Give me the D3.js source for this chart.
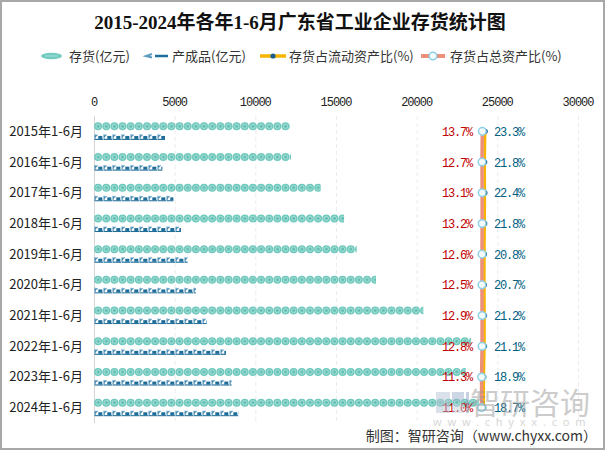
<!DOCTYPE html>
<html><head><meta charset="utf-8">
<script src="https://cdn.jsdelivr.net/npm/d3@7/dist/d3.min.js"></script>
<style>body{margin:0;background:#fff}svg{display:block}</style>
</head><body>
<script>
const categories = ["2015年1-6月","2016年1-6月","2017年1-6月","2018年1-6月","2019年1-6月","2020年1-6月","2021年1-6月","2022年1-6月","2023年1-6月","2024年1-6月"];
const inventory = [12150, 12210, 14050, 15500, 16280, 17480, 20410, 23370, 23040, 23850];
const product = [4400, 4235, 4920, 5390, 5810, 6320, 6980, 8180, 8530, 8950];
const ratioCurrent = [23.3, 21.8, 22.4, 21.8, 20.8, 20.7, 21.2, 21.1, 18.9, 18.7];
const ratioTotal = [13.7, 12.7, 13.1, 13.2, 12.6, 12.5, 12.9, 12.8, 11.3, 11.0];
const xTicks = [0, 5000, 10000, 15000, 20000, 25000, 30000];
const legendNames = ["存货(亿元)", "产成品(亿元)", "存货占流动资产比(%)", "存货占总资产比(%)"];

const W = 605, H = 450;
const svg = d3.select("body").append("svg").attr("width", W).attr("height", H);
const defs = svg.append("defs");

const x = d3.scaleLinear().domain([0, 30000]).range([94, 578]);
const y = d3.scaleBand().domain(categories).range([116, 423]);
const xr = d3.scaleLinear().domain([0, 100]).range([478.2, 508.2]); // hidden secondary axis

// border
svg.append("rect").attr("x", 1).attr("y", 1).attr("width", W - 2).attr("height", H - 2)
  .attr("fill", "#fff").attr("stroke", "#a8a8a8").attr("stroke-width", 2);

// title
svg.append("text").attr("x", 300).attr("y", 29).attr("text-anchor", "middle")
  .attr("font-family", "'Liberation Serif','Noto Sans CJK SC',serif").attr("font-weight", "bold")
  .attr("font-size", 19).attr("fill", "#111")
  .text("2015-2024年各年1-6月广东省工业企业存货统计图");

// legend
const lg = svg.append("g").attr("font-family", "'Noto Sans CJK SC',sans-serif").attr("font-size", 13).attr("fill", "#333");
const ly = 56;
lg.append("ellipse").attr("cx", 51.5).attr("cy", ly).attr("rx", 10.5).attr("ry", 3.2).attr("fill", "#72cbc0");
lg.append("line").attr("x1", 45).attr("x2", 58).attr("y1", ly).attr("y2", ly).attr("stroke", "#a8e0d8").attr("stroke-width", 1);
lg.append("path").attr("d", `M152,${ly-2} L146,${ly} L152,${ly+1.5}`).attr("fill", "none").attr("stroke", "#5d9cc0").attr("stroke-width", 2);
lg.append("line").attr("x1", 155).attr("x2", 168).attr("y1", ly).attr("y2", ly).attr("stroke", "#1f6d99").attr("stroke-width", 2.5);
lg.append("line").attr("x1", 260).attr("x2", 286).attr("y1", ly).attr("y2", ly).attr("stroke", "#f7b500").attr("stroke-width", 3.5);
lg.append("circle").attr("cx", 273).attr("cy", ly).attr("r", 2.6).attr("fill", "#1d5f86");
lg.append("line").attr("x1", 421).attr("x2", 445).attr("y1", ly).attr("y2", ly).attr("stroke", "#ec907b").attr("stroke-width", 4);
lg.append("circle").attr("cx", 433).attr("cy", ly).attr("r", 3.8).attr("fill", "#f4fbfd").attr("stroke", "#8fd0e8").attr("stroke-width", 1.5);
const lx = [69, 172, 289, 450];
legendNames.forEach((n, i) => lg.append("text").attr("x", lx[i]).attr("y", ly + 4.5).text(n));

// x axis ticks on top
const ax = svg.append("g").attr("font-family", "'Liberation Mono',monospace").attr("font-size", 12).attr("fill", "#222");
xTicks.forEach(t => {
  ax.append("text").attr("x", x(t)).attr("y", 106).attr("text-anchor", "middle").attr("letter-spacing", -1).text(t);
  svg.append("line").attr("x1", x(t) + 0.5).attr("x2", x(t) + 0.5).attr("y1", y.range()[0]).attr("y2", y.range()[1])
    .attr("stroke", t === 0 ? "#d4d4d4" : "#ececec").attr("stroke-width", 1)
    .attr("stroke-dasharray", t === 0 ? null : "4,3");
});

// y labels
const yl = svg.append("g").attr("font-family", "'Noto Sans CJK SC',sans-serif").attr("font-size", 13).attr("fill", "#222");
categories.forEach(c => yl.append("text").attr("x", 83).attr("y", y(c) + y.bandwidth() / 2 + 4.5).attr("text-anchor", "end").text(c));

// pictorial bars
const invPitch = 8.15, prodPitch = 9;
categories.forEach((c, i) => {
  const cy = y(c) + y.bandwidth() / 2;
  const w1 = x(inventory[i]) - x(0);
  defs.append("clipPath").attr("id", "ci" + i).append("rect")
    .attr("x", x(0)).attr("y", cy - 10).attr("width", w1).attr("height", 10);
  const g1 = svg.append("g").attr("clip-path", `url(#ci${i})`);
  d3.range(Math.ceil(w1 / invPitch)).forEach(k => {
    const cx = x(0) + invPitch / 2 + k * invPitch, yy = cy - 5;
    g1.append("circle").attr("cx", cx).attr("cy", yy).attr("r", 4).attr("fill", "#6fc9bd");
    g1.append("circle").attr("cx", cx).attr("cy", yy).attr("r", 2.2).attr("fill", "none").attr("stroke", "#a6ddd5").attr("stroke-width", 1);
    g1.append("circle").attr("cx", cx + 0.4).attr("cy", yy).attr("r", 0.8).attr("fill", "#5fb8ad");
  });
  const w2 = x(product[i]) - x(0);
  defs.append("clipPath").attr("id", "cp" + i).append("rect")
    .attr("x", x(0)).attr("y", cy + 2).attr("width", w2).attr("height", 7);
  const g2 = svg.append("g").attr("clip-path", `url(#cp${i})`);
  d3.range(Math.ceil(w2 / prodPitch)).forEach(k => {
    const px = x(0) + k * prodPitch + 0.5, py = cy + 3;
    g2.append("path").attr("d", `M${px+0.6},${py} L${px+0.6},${py+4.5} M${px+0.6},${py+2.6} L${px+3},${py+0.3}`)
      .attr("stroke", "#3f88b4").attr("stroke-width", 1.1).attr("fill", "none");
    g2.append("rect").attr("x", px + 3.8).attr("y", py + 1.6).attr("width", 4).attr("height", 3).attr("fill", "#1f6d99");
    g2.append("rect").attr("x", px).attr("y", py + 4.5).attr("width", 8.5).attr("height", 1.1).attr("fill", "#1f6d99");
  });
});

// lines
const lineT = d3.line().x(d => xr(d.v)).y(d => y(d.c) + y.bandwidth() / 2);
const dT = ratioTotal.map((v, i) => ({v, c: categories[i]}));
const dC = ratioCurrent.map((v, i) => ({v, c: categories[i]}));
svg.append("path").attr("d", lineT(dC)).attr("fill", "none").attr("stroke", "#f7b500").attr("stroke-width", 2.5);
svg.append("path").attr("d", lineT(dT)).attr("fill", "none").attr("stroke", "#ec907b").attr("stroke-width", 3.5);
dC.forEach(d => svg.append("circle").attr("cx", xr(d.v)).attr("cy", y(d.c) + y.bandwidth() / 2).attr("r", 2.6).attr("fill", "#1d5f86"));
dT.forEach(d => svg.append("circle").attr("cx", xr(d.v)).attr("cy", y(d.c) + y.bandwidth() / 2).attr("r", 3.8)
  .attr("fill", "#f4fbfd").attr("stroke", "#8fd0e8").attr("stroke-width", 1.5));

// labels
const lab = svg.append("g").attr("font-family", "'Liberation Mono',monospace").attr("font-size", 12).attr("letter-spacing", -1.2);
categories.forEach((c, i) => {
  const cy = y(c) + y.bandwidth() / 2 + 4.5;
  lab.append("text").attr("x", 472).attr("y", cy).attr("text-anchor", "end").attr("fill", "#c00000").text(ratioTotal[i].toFixed(1) + "%");
  lab.append("text").attr("x", 494).attr("y", cy).attr("fill", "#00607f").text(ratioCurrent[i].toFixed(1) + "%");
});

// watermark (semi-transparent overlay, as in the reference)
const wm = svg.append("g").attr("opacity", 0.5);
wm.append("rect").attr("x", 436).attr("y", 392).attr("width", 14).attr("height", 21).attr("fill", "#b9c4d6");
wm.append("rect").attr("x", 452).attr("y", 392).attr("width", 12).attr("height", 9.5).attr("fill", "#9fb0cc");
wm.append("rect").attr("x", 452).attr("y", 403.5).attr("width", 12).attr("height", 9.5).attr("fill", "#c7d0df");
wm.append("rect").attr("x", 466).attr("y", 392).attr("width", 3).attr("height", 21).attr("fill", "#8fa3c6");
wm.append("text").attr("x", 470).attr("y", 414).attr("font-family", "'Noto Sans CJK SC',sans-serif").attr("font-size", 30)
  .attr("fill", "#9a9a9a").text("智研咨询");
wm.append("text").attr("x", 433).attr("y", 426).attr("font-family", "'Noto Sans',sans-serif").attr("font-size", 11)
  .attr("fill", "#b0b0b0").attr("letter-spacing", 5.8).text("www.chyxx.com");

// footer
svg.append("text").attr("x", 597).attr("y", 441).attr("text-anchor", "end")
  .attr("font-family", "'Noto Sans CJK SC',sans-serif").attr("font-size", 14).attr("fill", "#333")
  .text("制图：智研咨询（www.chyxx.com）");
</script>
</body></html>
